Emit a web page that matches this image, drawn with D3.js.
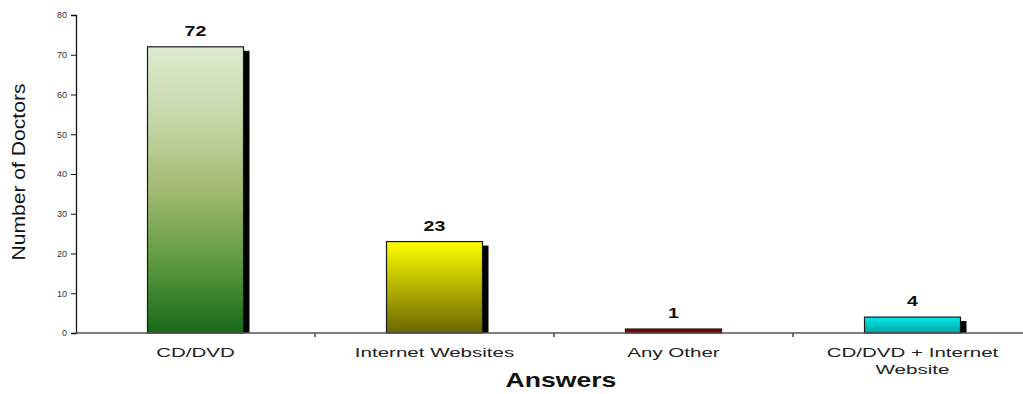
<!DOCTYPE html>
<html>
<head>
<meta charset="utf-8">
<script src="https://cdn.jsdelivr.net/npm/d3@7"></script>
<style>
  html, body { margin: 0; padding: 0; background: #fff; }
  svg { display: block; }
</style>
</head>
<body>
<svg id="chart" width="1023" height="394"></svg>
<script>
// Survey answers and counts
const categories = ["CD/DVD", "Internet Websites", "Any Other", "CD/DVD + Internet Website"];
const doctors = [72, 23, 1, 4];
const yTicks = [0, 10, 20, 30, 40, 50, 60, 70, 80];

// Gradient stops per bar (top to bottom)
const fills = [
  ["#dfead0", "#c4d8a8", "#a2bb72", "#5f9a42", "#176a17"],
  ["#ffff00", "#6b6600"],
  ["#8a0000", "#8a0000"],
  ["#00eaea", "#00a3a3"]
];

const FONT = "Liberation Sans, Arial, sans-serif";
const svg = d3.select("#chart");
const margin = { left: 76, top: 15, bottom: 333 };
const x = d3.scaleBand().domain(categories).range([76, 1032]).paddingInner(0).paddingOuter(0);
const y = d3.scaleLinear().domain([0, 80]).range([margin.bottom, margin.top]);
const barW = 96;
const cx = c => x(c) + x.bandwidth() / 2;

// wide-set text: a group that stretches its text horizontally
function wideText(parent, px, py, sx) {
  return parent.append("g")
    .attr("transform", `translate(${px},${py}) scale(${sx},1)`)
    .append("text").attr("text-anchor", "middle").attr("font-family", FONT);
}

const defs = svg.append("defs");
categories.forEach((c, i) => {
  const g = defs.append("linearGradient").attr("id", "g" + i)
    .attr("x1", 0).attr("y1", 0).attr("x2", 0).attr("y2", 1);
  const n = fills[i].length;
  fills[i].forEach((col, k) => {
    g.append("stop").attr("offset", (k / (n - 1) * 100) + "%").attr("stop-color", col);
  });
});

const bars = svg.append("g");
// drop shadows
bars.selectAll("rect.shadow").data(doctors).join("rect")
  .attr("class", "shadow")
  .attr("x", (d, i) => cx(categories[i]) - barW / 2 + 6)
  .attr("y", d => y(d) + 4)
  .attr("width", barW)
  .attr("height", d => Math.max(0, y(0) - y(d) - 4))
  .attr("fill", "#000");
// bars
bars.selectAll("rect.bar").data(doctors).join("rect")
  .attr("class", "bar")
  .attr("x", (d, i) => cx(categories[i]) - barW / 2)
  .attr("y", d => y(d))
  .attr("width", barW)
  .attr("height", d => y(0) - y(d))
  .attr("fill", (d, i) => `url(#g${i})`)
  .attr("stroke", "#1a1a1a")
  .attr("stroke-width", 1.2);

// value labels
const vals = svg.append("g");
doctors.forEach((d, i) => {
  wideText(vals, cx(categories[i]), y(d) - 11, 1.4)
    .attr("font-weight", "bold").attr("font-size", 14).attr("fill", "#111")
    .text(d);
});

// y axis
const yAxis = svg.append("g").attr("transform", `translate(${margin.left},0)`)
  .call(d3.axisLeft(y).tickValues(yTicks).tickSize(5).tickPadding(4));
yAxis.select(".domain").attr("stroke", "#111").attr("stroke-width", 1.3);
yAxis.selectAll(".tick line").attr("stroke", "#111");
yAxis.selectAll(".tick text")
  .attr("font-family", FONT)
  .attr("font-size", 9).attr("fill", "#333");

// x axis
const xAxis = svg.append("g").attr("transform", `translate(0,${margin.bottom})`);
xAxis.append("line").attr("x1", margin.left).attr("x2", 1023)
  .attr("stroke", "#555").attr("stroke-width", 1.5);
xAxis.selectAll("line.tick").data(categories.slice(1)).join("line")
  .attr("class", "tick")
  .attr("x1", d => x(d)).attr("x2", d => x(d))
  .attr("y1", 0).attr("y2", 4)
  .attr("stroke", "#444").attr("stroke-width", 1.5);

// category labels (wrapped when long)
const catLines = categories.map(c => c === "CD/DVD + Internet Website" ? ["CD/DVD + Internet", "Website"] : [c]);
categories.forEach((c, i) => {
  catLines[i].forEach((line, k) => {
    wideText(xAxis, cx(c), 24 + k * 17, 1.58)
      .attr("font-size", 13).attr("fill", "#222")
      .text(line);
  });
});

// axis titles
wideText(svg, 561, 387, 1.33)
  .attr("font-weight", "bold").attr("font-size", 20).attr("fill", "#111")
  .text("Answers");

svg.append("text")
  .attr("transform", "translate(25,172) rotate(-90)")
  .attr("text-anchor", "middle")
  .attr("font-family", FONT)
  .attr("font-size", 18)
  .attr("textLength", 177)
  .attr("lengthAdjust", "spacingAndGlyphs")
  .attr("fill", "#111")
  .text("Number of Doctors");
</script>
</body>
</html>
